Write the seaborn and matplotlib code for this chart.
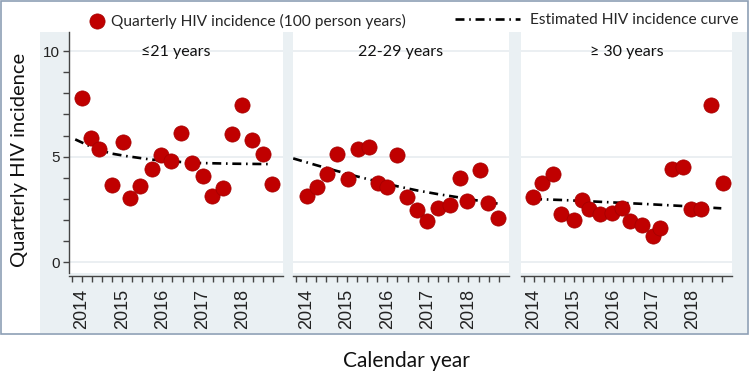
import matplotlib
matplotlib.use("Agg")
import matplotlib.pyplot as plt
from matplotlib.patches import Rectangle
import seaborn as sns
import pandas as pd

# ---------------- data ----------------
groups = ["≤21 years", "22-29 years", "≥ 30 years"]

x_g1 = [2013.99, 2014.22, 2014.43, 2014.75, 2015.03, 2015.19, 2015.44, 2015.74, 2015.97, 2016.22,
        2016.47, 2016.74, 2017.00, 2017.24, 2017.50, 2017.73, 2017.99, 2018.22, 2018.50, 2018.72]
y_g1 = [7.79, 5.87, 5.35, 3.66, 5.71, 3.04, 3.63, 4.43, 5.06, 4.81,
        6.13, 4.71, 4.07, 3.15, 3.50, 6.06, 7.43, 5.77, 5.11, 3.72]

x_g2 = [2014.01, 2014.26, 2014.51, 2014.77, 2015.02, 2015.27, 2015.56, 2015.76, 2016.00, 2016.25,
        2016.49, 2016.74, 2016.97, 2017.25, 2017.55, 2017.80, 2017.97, 2018.28, 2018.48, 2018.72]
y_g2 = [3.14, 3.55, 4.18, 5.11, 3.93, 5.35, 5.44, 3.74, 3.55, 5.06,
        3.09, 2.46, 1.97, 2.56, 2.74, 3.98, 2.90, 4.38, 2.81, 2.11]

x_g3 = [2013.98, 2014.21, 2014.48, 2014.68, 2015.01, 2015.22, 2015.39, 2015.67, 2015.98, 2016.23,
        2016.43, 2016.73, 2017.00, 2017.18, 2017.48, 2017.77, 2017.97, 2018.23, 2018.48, 2018.77]
y_g3 = [3.10, 3.77, 4.16, 2.27, 2.00, 2.95, 2.52, 2.30, 2.35, 2.56,
        1.97, 1.77, 1.24, 1.64, 4.40, 4.51, 2.51, 2.54, 7.43, 3.77]

cx_g1 = [2013.83, 2014.25, 2014.70, 2015.10, 2015.70, 2016.25, 2016.75, 2017.75, 2018.73]
cy_g1 = [5.82, 5.45, 5.16, 5.03, 4.87, 4.78, 4.71, 4.67, 4.65]
cx_g2 = [2013.68, 2014.25, 2014.75, 2015.25, 2015.75, 2016.25, 2016.75, 2017.25, 2017.75, 2018.25, 2018.73]
cy_g2 = [4.92, 4.60, 4.33, 4.07, 3.83, 3.60, 3.40, 3.23, 3.08, 2.92, 2.78]
cx_g3 = [2013.98, 2014.75, 2015.75, 2016.75, 2017.75, 2018.73]
cy_g3 = [3.00, 2.95, 2.86, 2.77, 2.67, 2.56]

year_labels = ["2014", "2015", "2016", "2017", "2018"]
y_tick_labels = ["0", "5", "10"]
legend_labels = ["Quarterly HIV incidence (100 person years)", "Estimated HIV incidence curve"]
y_label = "Quarterly HIV incidence"
x_label = "Calendar year"

points = [(x_g1, y_g1), (x_g2, y_g2), (x_g3, y_g3)]
curves = [(cx_g1, cy_g1), (cx_g2, cy_g2), (cx_g3, cy_g3)]

# ---------------- style ----------------
sns.set_style("ticks")
plt.rcParams["font.family"] = ["Liberation Sans", "DejaVu Sans"]
TXT = ["Lato", "DejaVu Sans"]

W, H = 750, 373
fig = plt.figure(figsize=(7.5, 3.73), dpi=100)
fig.patch.set_facecolor("white")

def fx(px):
    return px / W

def fy(py):
    return 1 - py / H

# gray graph region and outer border
fig.patches.append(Rectangle((fx(40), fy(333)), fx(747) - fx(40), fy(32) - fy(333),
                             transform=fig.transFigure, facecolor="#eaf0f3",
                             edgecolor="none", zorder=-10))
fig.patches.append(Rectangle((fx(1), fy(334)), fx(748) - fx(1), fy(1) - fy(334),
                             transform=fig.transFigure, facecolor="none",
                             edgecolor="#8d9fb5", linewidth=1.2, zorder=5))

panels_px = [(69, 283), (293, 509), (521, 732)]
top_px, bot_px = 32, 273
RED = "#C00000"
AXC = "#444444"

tick_pos = [2013.75 + k / 4 for k in range(21)]
label_pos = [int(s) for s in year_labels]

handles = None
for i, ((x0, x1), (px, py), (cx, cy), title) in enumerate(zip(panels_px, points, curves, groups)):
    ax = fig.add_axes([fx(x0), fy(bot_px), fx(x1) - fx(x0), fy(top_px) - fy(bot_px)])
    ax.set_zorder(1)
    ax.set_facecolor("white")
    dfp = pd.DataFrame({"year": px, "inc": py})
    dfc = pd.DataFrame({"year": cx, "inc": cy})
    sns.lineplot(data=dfc, x="year", y="inc", ax=ax, color="black", linewidth=1.9,
                 zorder=2, label=legend_labels[1], legend=False)
    ax.lines[-1].set_dashes((3.4, 1.8, 0.6, 1.8))
    sns.scatterplot(data=dfp, x="year", y="inc", ax=ax, color=RED, s=120,
                    edgecolor="#a30000", linewidth=0.5, zorder=3,
                    label=legend_labels[0], legend=False)
    ax.set_xlim(2013.75 - 0.3 / 4, 2013.75 + 21.0 / 4)
    ax.set_ylim(-0.5, 10.9)
    ax.set_xlabel("")
    ax.set_ylabel("")

    ax.set_yticks([0, 5, 10], labels=y_tick_labels)
    ax.set_yticks(list(range(0, 11)), minor=True)
    ax.grid(axis="y", which="major", color="#e9eef1", linewidth=1.3, zorder=0)
    ax.set_axisbelow(True)

    ax.set_xticks(label_pos, labels=year_labels)
    ax.set_xticks(tick_pos, minor=True)
    ax.tick_params(axis="x", which="both", direction="out", length=4.5, width=1.0,
                   color=AXC, bottom=True, pad=4.5, labelrotation=90, labelsize=13,
                   labelcolor="#222222")

    for s in ["top", "right"]:
        ax.spines[s].set_visible(False)
    ax.spines["bottom"].set_position(("outward", 2.2))
    ax.spines["bottom"].set_color(AXC)
    ax.spines["bottom"].set_linewidth(1.0)

    if i == 0:
        ax.spines["left"].set_color(AXC)
        ax.spines["left"].set_linewidth(1.0)
        ax.tick_params(axis="y", which="both", direction="out", length=4.5, width=1.0,
                       color=AXC, left=True, pad=2, labelsize=11, labelcolor="#222222")
    else:
        ax.spines["left"].set_visible(False)
        ax.tick_params(axis="y", which="both", left=False, labelleft=False)

    ax.text(0.5, 0.915, title, transform=ax.transAxes, ha="center", va="center",
            fontsize=11.5, family=TXT, color="#111111")
    if handles is None:
        h, l = ax.get_legend_handles_labels()
        handles = dict(zip(l, h))

# legends
leg1 = fig.legend([handles[legend_labels[0]]], [legend_labels[0]],
                  loc="center left", bbox_to_anchor=(fx(88), fy(21)), frameon=False,
                  prop={"family": TXT, "size": 11.2}, handletextpad=0.3,
                  borderaxespad=0, borderpad=0, handlelength=1.2)
leg2 = fig.legend([handles[legend_labels[1]]], [legend_labels[1]],
                  loc="center left", bbox_to_anchor=(fx(455), fy(20)), frameon=False,
                  prop={"family": TXT, "size": 11.2}, handletextpad=0.6,
                  borderaxespad=0, borderpad=0, handlelength=4.2)

fig.text(fx(20), fy(160), y_label, rotation=90, ha="center", va="center",
         fontsize=14.5, family=TXT, color="#111111")
fig.text(fx(406), fy(361), x_label, ha="center", va="center",
         fontsize=15, family=TXT, color="#111111")

fig.savefig("out.png", dpi=100, facecolor="white")
